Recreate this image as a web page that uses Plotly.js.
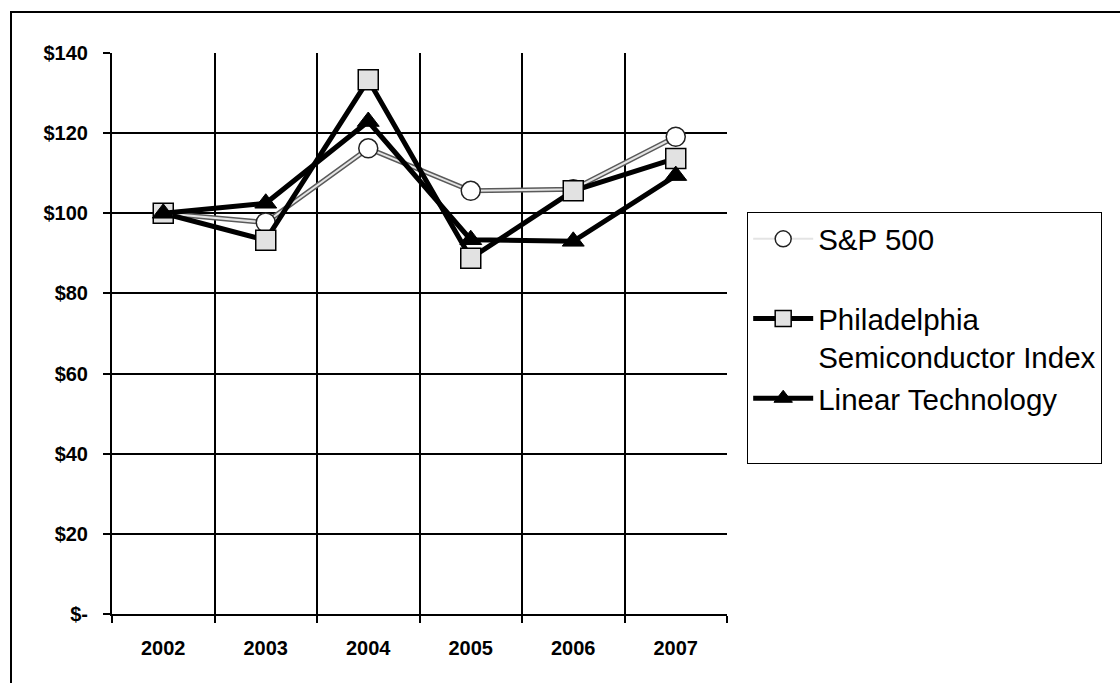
<!DOCTYPE html>
<html>
<head>
<meta charset="utf-8">
<script src="https://cdn.plot.ly/plotly-3.0.1.min.js"></script>
<style>
  html, body { margin: 0; padding: 0; background: #fff; }
  #wrap { position: relative; width: 1120px; height: 683px; overflow: hidden; }
  #chart { width: 1120px; height: 683px; }
  #frame { position: absolute; left: 10px; top: 11px; width: 1200px; height: 800px;
           border-left: 2px solid #000; border-top: 2px solid #000; pointer-events: none; }
</style>
</head>
<body>
<div id="wrap">
  <div id="chart"></div>
  <div id="frame"></div>
</div>
<script>
const years = ['2002', '2003', '2004', '2005', '2006', '2007'];
const sp500 = [100, 97.7, 116.2, 105.6, 106.0, 119.1];
const sox   = [100, 93.3, 133.3, 88.8, 105.6, 113.7];
const lltc  = [100, 102.5, 122.9, 93.4, 93.0, 109.4];
const yTickVals = [0, 20, 40, 60, 80, 100, 120, 140];
const yTickText = ['$-', '$20', '$40', '$60', '$80', '$100', '$120', '$140'];
const seriesNames = ['S&P 500', 'Philadelphia<br>Semiconductor Index', 'Linear Technology'];

const traces = [
  {
    x: years, y: sp500, type: 'scatter', mode: 'lines',
    line: { color: '#5a5a5a', width: 5 },
    showlegend: false, hoverinfo: 'skip'
  },
  {
    x: years, y: sp500, type: 'scatter', mode: 'lines+markers',
    name: seriesNames[0] + '<br>&nbsp;',
    line: { color: '#e4e4e4', width: 2 },
    marker: { symbol: 'circle', size: 19, color: '#ffffff', line: { color: '#222', width: 1.5 } }
  },
  {
    x: years, y: sox, type: 'scatter', mode: 'lines+markers',
    name: seriesNames[1],
    line: { color: '#000000', width: 5 },
    marker: { symbol: 'square', size: 20, color: '#e2e2e2', line: { color: '#000', width: 1.5 } }
  },
  {
    x: years, y: lltc, type: 'scatter', mode: 'lines+markers',
    name: seriesNames[2] + '<br>&nbsp;',
    line: { color: '#000000', width: 5 },
    marker: { symbol: 'triangle-up', size: 19, color: '#000000', line: { color: '#000', width: 1 } }
  }
];

const layout = {
  width: 1120, height: 683,
  margin: { l: 112, r: 393, t: 53, b: 69, pad: 0, autoexpand: false },
  paper_bgcolor: '#ffffff', plot_bgcolor: '#ffffff',
  font: { family: '"Liberation Sans", Arial, sans-serif', color: '#000' },
  xaxis: {
    type: 'category', tickson: 'boundaries',
    range: [-0.5, 5.5],
    showline: true, linecolor: '#000', linewidth: 2,
    showgrid: true, gridcolor: '#000', gridwidth: 2,
    ticks: 'outside', ticklen: 7, tickcolor: '#000', tickwidth: 2,
    tickfont: { size: 20, family: '"Liberation Sans", Arial, sans-serif', weight: 'bold' },
    ticklabelstandoff: 15,
    zeroline: false, fixedrange: true
  },
  yaxis: {
    range: [0, 140],
    tickvals: yTickVals, ticktext: yTickText,
    showline: true, linecolor: '#000', linewidth: 2,
    showgrid: true, gridcolor: '#000', gridwidth: 2,
    ticks: 'outside', ticklen: 7, tickcolor: '#000', tickwidth: 2,
    tickfont: { size: 20, family: '"Liberation Sans", Arial, sans-serif', weight: 'bold' },
    ticklabelstandoff: 11,
    zeroline: false, fixedrange: true
  },
  legend: {
    x: 1.0325, xanchor: 'left', y: 0.7166, yanchor: 'top',
    bgcolor: '#ffffff', bordercolor: '#000', borderwidth: 1.2,
    font: { size: 29.5, family: '"Liberation Sans", Arial, sans-serif', color: '#000' },
    valign: 'top', itemwidth: 60, traceorder: 'normal',
    itemclick: false, itemdoubleclick: false
  },
  showlegend: true
};

Plotly.newPlot('chart', traces, layout, { staticPlot: true, displayModeBar: false });
</script>
</body>
</html>
